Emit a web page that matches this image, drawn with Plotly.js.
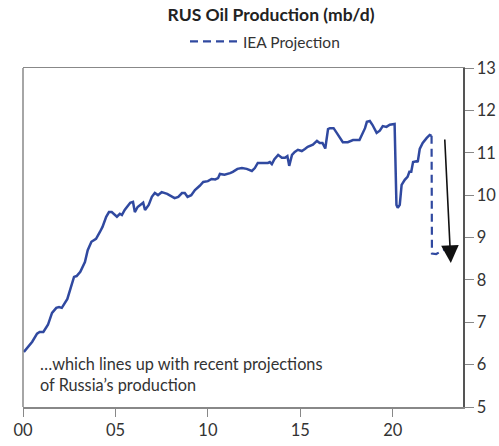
<!DOCTYPE html>
<html>
<head>
<meta charset="utf-8">
<script src="https://cdn.plot.ly/plotly-3.0.1.min.js"></script>
<style>html,body{margin:0;padding:0;background:#fff;}#chart{width:499px;height:446px;}</style>
</head>
<body>
<div id="chart"></div>
<script>
const years = [2000.05,2000.27,2000.5,2000.76,2000.9,2001.1,2001.35,2001.57,2001.8,2001.95,2002.1,2002.4,2002.54,2002.76,2002.9,2003.1,2003.35,2003.5,2003.7,2003.95,2004.16,2004.3,2004.5,2004.65,2004.8,2005.08,2005.24,2005.35,2005.5,2005.8,2005.95,2006.05,2006.2,2006.5,2006.6,2006.8,2006.97,2007.13,2007.3,2007.5,2007.8,2008.2,2008.4,2008.6,2008.75,2008.9,2009.1,2009.3,2009.56,2009.75,2010.0,2010.2,2010.4,2010.55,2010.65,2010.9,2011.2,2011.35,2011.6,2011.84,2012.1,2012.38,2012.54,2012.7,2012.9,2013.25,2013.35,2013.46,2013.6,2013.8,2014.0,2014.17,2014.3,2014.4,2014.55,2014.7,2014.87,2015.08,2015.25,2015.4,2015.68,2015.9,2016.05,2016.2,2016.35,2016.5,2016.6,2016.8,2016.97,2017.14,2017.3,2017.57,2017.85,2018.2,2018.4,2018.5,2018.6,2018.76,2018.9,2019.13,2019.3,2019.46,2019.66,2019.84,2020.1,2020.15,2020.2,2020.27,2020.38,2020.48,2020.65,2020.8,2020.9,2021.0,2021.1,2021.3,2021.35,2021.46,2021.62,2021.84,2022.0,2022.1];
const production = [6.30,6.42,6.54,6.73,6.77,6.77,6.94,7.22,7.34,7.36,7.34,7.55,7.76,8.07,8.09,8.19,8.42,8.70,8.90,8.97,9.13,9.25,9.49,9.60,9.60,9.49,9.56,9.53,9.65,9.82,9.84,9.60,9.72,9.82,9.65,9.77,9.96,10.05,10.00,10.07,10.03,9.93,9.96,10.05,10.05,9.96,10.00,10.12,10.22,10.31,10.33,10.38,10.37,10.40,10.50,10.48,10.52,10.55,10.62,10.64,10.62,10.57,10.64,10.76,10.76,10.76,10.78,10.73,10.85,10.95,10.88,10.88,10.92,10.69,10.95,11.02,11.07,11.04,11.09,11.14,11.19,11.28,11.23,11.23,11.10,11.56,11.58,11.58,11.47,11.35,11.25,11.25,11.30,11.30,11.49,11.58,11.73,11.75,11.66,11.47,11.52,11.63,11.61,11.66,11.68,10.40,9.77,9.70,9.77,10.24,10.36,10.43,10.55,10.55,10.78,10.80,10.78,11.09,11.23,11.35,11.42,11.40];
const projYears = [2022.1,2022.12,2022.35,2022.85];
const projValues = [11.40,8.62,8.61,8.73];
const xTickVals = [2000,2005,2010,2015,2020];
const xTickText = ['00','05','10','15','20'];
const yTickVals = [5,6,7,8,9,10,11,12,13];

const blue = '#3049a0';
const font = 'Lato, "Open Sans", sans-serif';

const traces = [
  {x: years, y: production, type: 'scatter', mode: 'lines', showlegend: false,
   line: {color: blue, width: 2.5}, hoverinfo: 'skip'},
  {x: projYears, y: projValues, type: 'scatter', mode: 'lines', name: 'IEA Projection',
   line: {color: blue, width: 2.2, dash: '8px,5px'}, hoverinfo: 'skip'}
];

const layout = {
  width: 499, height: 446,
  margin: {l: 23, r: 36, t: 68, b: 39},
  paper_bgcolor: '#fff', plot_bgcolor: '#fff',
  font: {family: font, color: '#333', size: 16},
  title: {text: '<b>RUS Oil Production (mb/d)</b>', x: 271/499, xanchor: 'center',
          y: 1 - 15/446, yanchor: 'middle', font: {family: font, size: 17.5, color: '#222'}},
  showlegend: true,
  legend: {orientation: 'h', x: 0.55, xanchor: 'center', y: 1.077, yanchor: 'middle',
           itemwidth: 48,
           font: {family: font, size: 15.5, color: '#333'}, bgcolor: 'rgba(0,0,0,0)'},
  xaxis: {range: [2000, 2023.8], tickvals: xTickVals, ticktext: xTickText,
          showgrid: false, zeroline: false, showline: true, mirror: true,
          linecolor: '#888', linewidth: 1.5, ticks: 'outside', ticklen: 8, tickcolor: '#888',
          tickwidth: 1, tickfont: {family: font, size: 16.5, color: '#333'}},
  yaxis: {range: [5, 13], side: 'right', tickvals: yTickVals,
          showgrid: false, zeroline: false, showline: true,
          linecolor: '#555', linewidth: 1.5, ticks: 'outside', ticklen: 9, tickcolor: '#888',
          tickwidth: 1, tickfont: {family: font, size: 16.5, color: '#333'}},
  shapes: [
    {type: 'line', xref: 'paper', yref: 'paper', x0: 0, x1: 0, y0: 0, y1: 1,
     line: {color: '#888', width: 1.5}}
  ],
  annotations: [
    {xref: 'x', yref: 'y', x: 2023.14, y: 8.40, ax: 2022.81, ay: 11.35,
     axref: 'x', ayref: 'y', showarrow: true, arrowhead: 2, arrowsize: 2.2,
     arrowwidth: 1.6, arrowcolor: '#111', text: ''},
    {xref: 'paper', yref: 'paper', x: 15/440, y: (407-374)/339, xanchor: 'left', yanchor: 'middle',
     align: 'left', showarrow: false,
     text: '…which lines up with recent projections<br>of Russia\u2019s production',
     font: {family: font, size: 16.3, color: '#333'}}
  ]
};

Plotly.newPlot('chart', traces, layout, {displayModeBar: false, staticPlot: true});
</script>
</body>
</html>
